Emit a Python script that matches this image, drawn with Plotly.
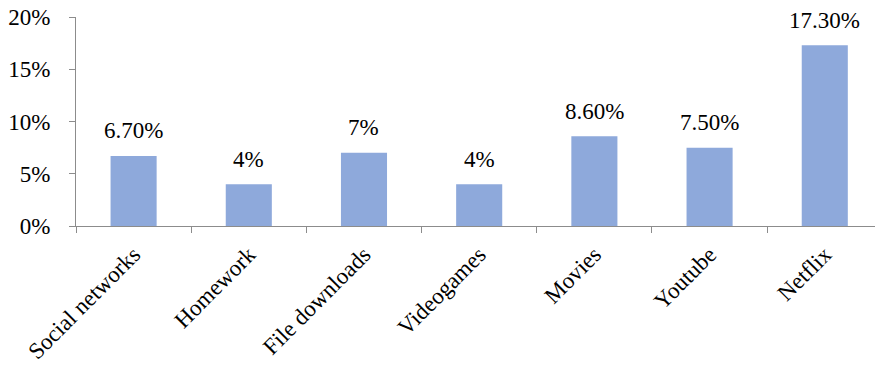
import plotly.graph_objects as go

categories = ["Social networks", "Homework", "File downloads", "Videogames", "Movies", "Youtube", "Netflix"]
values = [0.067, 0.04, 0.07, 0.04, 0.086, 0.075, 0.173]
value_labels = ["6.70%", "4%", "7%", "4%", "8.60%", "7.50%", "17.30%"]
y_ticks = [0, 0.05, 0.10, 0.15, 0.20]

FONT = "Liberation Serif"
AXIS_COLOR = "#8c8c8c"
FS = 23

fig = go.Figure()
fig.add_trace(go.Bar(
    x=categories, y=values, width=0.4,
    marker=dict(color="#8EA9DB", line=dict(width=0)),
    hoverinfo="skip",
))

for c, v, t in zip(categories, values, value_labels):
    fig.add_annotation(x=c, y=v, text=t, showarrow=False,
                       yanchor="middle", yshift=25,
                       font=dict(family=FONT, size=FS, color="#000000"))

fig.update_layout(
    width=875, height=367,
    margin=dict(l=76, r=0, t=17, b=141),
    paper_bgcolor="white", plot_bgcolor="white",
    showlegend=False,
    font=dict(family=FONT, size=FS, color="#000000"),
    bargap=0.6,
)
fig.update_xaxes(
    range=[-0.5, 6.436],
    showline=True, linecolor=AXIS_COLOR, linewidth=1,
    ticks="outside", tickson="boundaries", ticklen=6, tickcolor=AXIS_COLOR,
    tickangle=-45, ticklabelstandoff=5,
    showgrid=False, zeroline=False,
    tickfont=dict(family=FONT, size=FS, color="#000000"),
)
fig.update_yaxes(
    range=[0, 0.2],
    tickvals=y_ticks, tickformat=".0%",
    showline=True, linecolor=AXIS_COLOR, linewidth=1,
    ticks="outside", ticklen=6, tickcolor=AXIS_COLOR,
    ticklabelstandoff=14,
    showgrid=False, zeroline=False,
    tickfont=dict(family=FONT, size=FS, color="#000000"),
)

fig.write_html("out.html")
